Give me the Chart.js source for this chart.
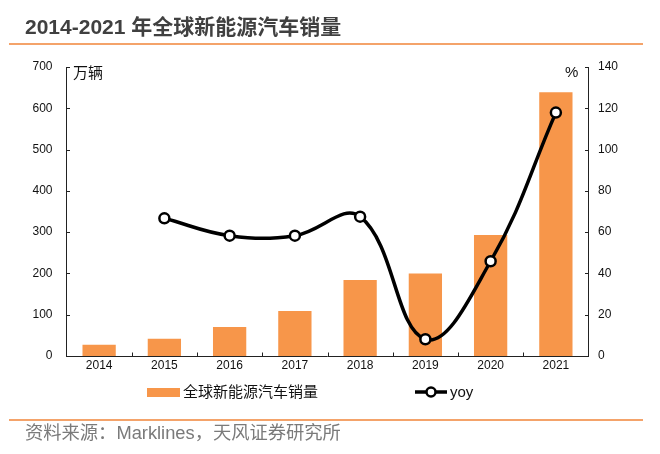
<!DOCTYPE html>
<html>
<head>
<meta charset="utf-8">
<script src="https://cdn.jsdelivr.net/npm/chart.js@4/dist/chart.umd.min.js"></script>
<style>
  html, body { margin: 0; padding: 0; background: #fff; }
  #wrap { position: relative; width: 660px; height: 454px; overflow: hidden;
          font-family: "Liberation Sans", Arial, "Noto Sans CJK SC", sans-serif; }
  #c { position: absolute; left: 0; top: 0; }
  .abs { position: absolute; white-space: nowrap; }
  #title { left: 25px; top: 13px; font-size: 21px; line-height: 28px; font-weight: bold; color: #404040; }
  .hr { position: absolute; left: 9px; width: 634px; height: 2px; background: #F4A36A; }
  #src { left: 25px; top: 422px; font-size: 18.3px; line-height: 22px; color: #7a7a7a; }
  #unitL { left: 73px; top: 63px; font-size: 15px; line-height: 20px; color: #111; }
  #unitR { left: 565px; top: 62px; font-size: 15px; line-height: 20px; color: #111; }
  .leg { top: 382px; font-size: 15px; line-height: 20px; color: #111; }
</style>
</head>
<body>
<div id="wrap">
  <canvas id="c" width="660" height="454"></canvas>
  <div id="title" class="abs">2014-2021 年全球新能源汽车销量</div>
  <div class="hr" style="top:43px"></div>
  <div id="unitL" class="abs">万辆</div>
  <div id="unitR" class="abs">%</div>
  <div class="abs leg" style="left:147px;top:387.5px;width:33px;height:9px;background:#F7964A"></div>
  <div class="abs leg" style="left:183px">全球新能源汽车销量</div>
  <svg class="abs" style="left:414px;top:385px" width="34" height="14">
    <line x1="1" y1="7" x2="33" y2="7" stroke="#000" stroke-width="3.5"/>
    <circle cx="17" cy="7" r="4.5" fill="#fff" stroke="#000" stroke-width="2.5"/>
  </svg>
  <div class="abs leg" style="left:450px">yoy</div>
  <div class="hr" style="top:419px"></div>
  <div id="src" class="abs">资料来源：Marklines，天风证券研究所</div>
</div>
<script>
const categories = ['2014', '2015', '2016', '2017', '2018', '2019', '2020', '2021'];
const salesValues = [27, 42, 70, 109, 184, 200, 293, 639];
const yoyValues = [null, 66.7, 58.3, 58.3, 67.5, 8.1, 45.9, 117.9];
const leftTicks = [0, 100, 200, 300, 400, 500, 600, 700];
const rightTicks = [0, 20, 40, 60, 80, 100, 120, 140];

const tickFont = { family: '"Liberation Sans", Arial, sans-serif', size: 12 };

const innerTicks = {
  id: 'innerTicks',
  afterDraw(chart) {
    const ctx = chart.ctx;
    const x = chart.scales.x, y = chart.scales.y, y1 = chart.scales.y1;
    const len = 3.5;
    ctx.save();
    ctx.strokeStyle = '#222';
    ctx.lineWidth = 1;
    ctx.beginPath();
    leftTicks.forEach(v => {
      const py = Math.round(y.getPixelForValue(v)) + 0.5;
      ctx.moveTo(y.right, py); ctx.lineTo(y.right + len, py);
    });
    rightTicks.forEach(v => {
      const py = Math.round(y1.getPixelForValue(v)) + 0.5;
      ctx.moveTo(y1.left, py); ctx.lineTo(y1.left - len, py);
    });
    for (let i = 1; i < categories.length; i++) {
      const px = Math.round((x.getPixelForValue(i - 1) + x.getPixelForValue(i)) / 2) + 0.5;
      ctx.moveTo(px, x.top); ctx.lineTo(px, x.top - len);
    }
    ctx.stroke();
    ctx.restore();
  }
};

new Chart(document.getElementById('c'), {
  data: {
    labels: categories,
    datasets: [
      {
        type: 'line',
        label: 'yoy',
        data: yoyValues,
        yAxisID: 'y1',
        order: 0,
        borderColor: '#000',
        borderWidth: 3.5,
        tension: 0.4,
        pointRadius: 5,
        pointBorderWidth: 2.5,
        pointBackgroundColor: '#fff',
        pointBorderColor: '#000',
        spanGaps: false
      },
      {
        type: 'bar',
        label: '全球新能源汽车销量',
        data: salesValues,
        yAxisID: 'y',
        order: 1,
        backgroundColor: '#F7964A',
        categoryPercentage: 1,
        barPercentage: 0.51
      }
    ]
  },
  options: {
    responsive: false,
    animation: false,
    layout: { padding: { top: 67, left: 0, right: 0, bottom: 0 } },
    plugins: { legend: { display: false }, tooltip: { enabled: false } },
    scales: {
      x: {
        type: 'category',
        offset: true,
        grid: { display: false, drawTicks: false },
        border: { display: true, color: '#222', width: 1 },
        ticks: { color: '#111', font: tickFont, padding: 2, maxRotation: 0 },
        afterFit(s) { s.height = 98; }
      },
      y: {
        position: 'left',
        min: 0, max: 700,
        afterBuildTicks(s) { s.ticks = leftTicks.map(v => ({ value: v })); },
        grid: { display: false, drawTicks: false },
        border: { display: true, color: '#222', width: 1 },
        ticks: { color: '#111', font: tickFont, padding: 14 },
        afterFit(s) { s.width = 66.5; }
      },
      y1: {
        position: 'right',
        min: 0, max: 140,
        afterBuildTicks(s) { s.ticks = rightTicks.map(v => ({ value: v })); },
        grid: { display: false, drawTicks: false },
        border: { display: true, color: '#222', width: 1 },
        ticks: { color: '#111', font: tickFont, padding: 9.5 },
        afterFit(s) { s.width = 71.5; }
      }
    }
  },
  plugins: [innerTicks]
});
</script>
</body>
</html>
